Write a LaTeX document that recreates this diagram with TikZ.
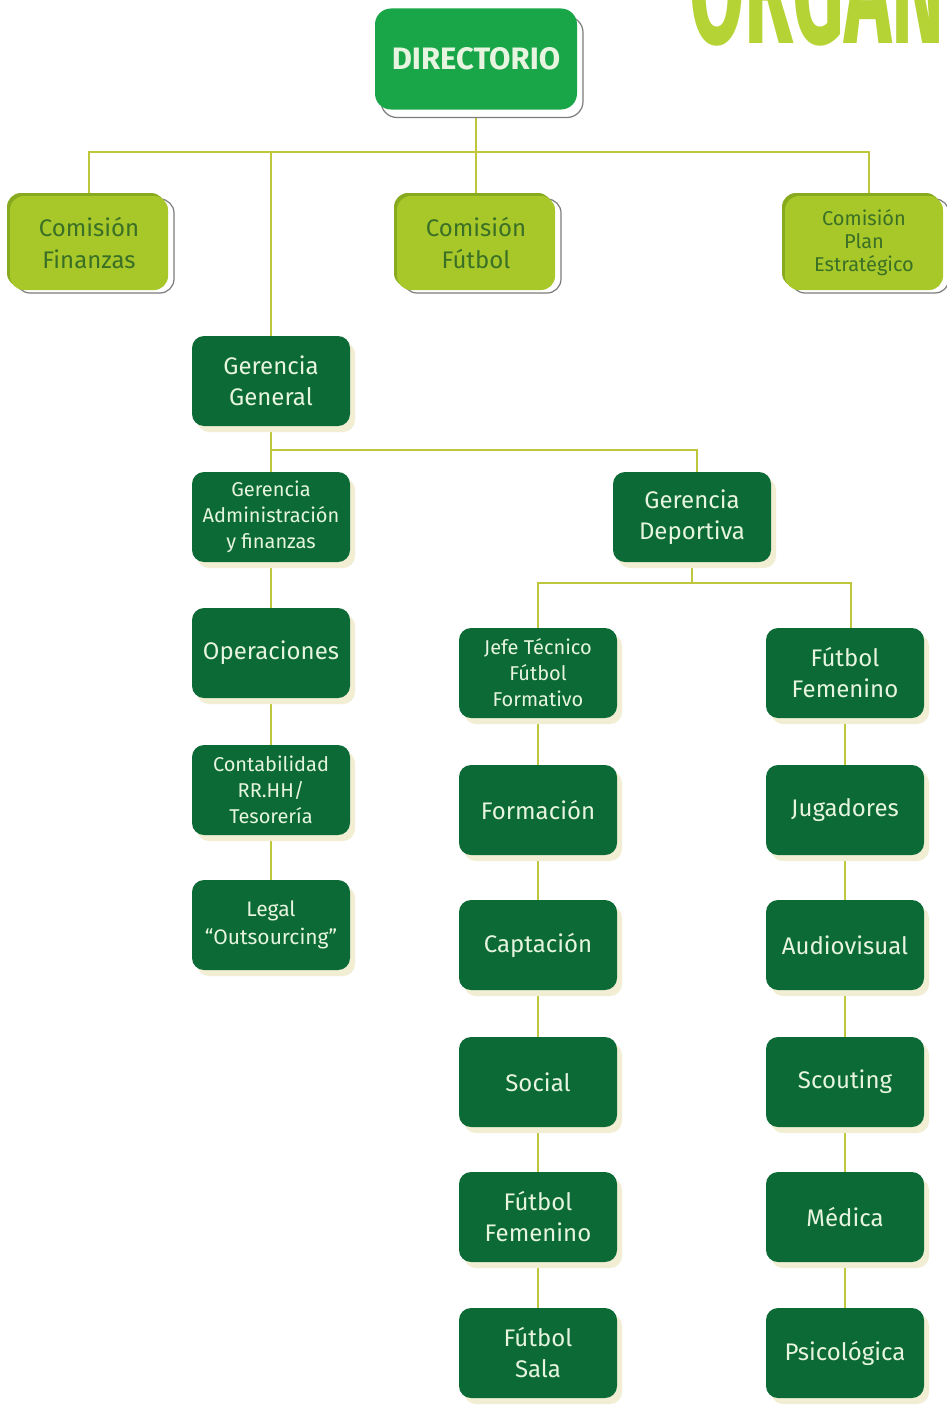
\documentclass[tikz,border=0pt]{standalone}
\usepackage{fontspec}
\setmainfont{Fira Sans}
\usetikzlibrary{shadows,backgrounds}
\definecolor{dkgreen}{HTML}{0B6A35}
\definecolor{boxtext}{HTML}{E6F4E0}
\definecolor{cream}{HTML}{F1EED3}
\definecolor{dirgreen}{HTML}{19A649}
\definecolor{comgreen}{HTML}{A8C82A}
\definecolor{comdark}{HTML}{88AA1E}
\definecolor{comtext}{HTML}{3A7025}
\definecolor{greyline}{HTML}{7C7C7C}
\definecolor{conncol}{HTML}{BEC63C}
\definecolor{titlegreen}{HTML}{B5D334}
\begin{document}
\begin{tikzpicture}[x=1pt,y=-1pt,
  darkbox/.style={rounded corners=12pt, fill=dkgreen, text=boxtext,
    minimum width=158pt, minimum height=90pt, align=center, inner sep=2pt,
    font=\fontsize{24}{31}\selectfont,
    copy shadow={shadow xshift=5pt, shadow yshift=-6pt, fill=cream, draw=none}},
  smalltext/.style={font=\fontsize{20}{26}\selectfont},
  dirbox/.style={rounded corners=16pt, fill=dirgreen, text=boxtext,
    minimum width=202pt, minimum height=101pt, align=center,
    font=\fontsize{31}{36}\bfseries\selectfont,
    copy shadow={shadow xshift=6pt, shadow yshift=-8pt, fill=white, draw=greyline, line width=1.2pt}},
  combox/.style={rounded corners=14pt, fill=comgreen, text=comtext,
    minimum width=158pt, minimum height=94pt, align=center, inner sep=2pt,
    font=\fontsize{24}{32}\selectfont,
    copy shadow={shadow xshift=6pt, shadow yshift=-3pt, fill=white, draw=greyline, line width=1.2pt},
    copy shadow={shadow xshift=-3pt, shadow yshift=3pt, fill=comdark, draw=none}},
  conn/.style={draw=conncol, line width=2.2pt}
]
\useasboundingbox (0,0) rectangle (947,1405);
\clip (0,0) rectangle (947,1405);

% title (cropped at the top, as in the reference)
\node[anchor=base west, text=titlegreen, inner sep=0pt, xscale=0.5,
  font=\fontsize{160}{160}\bfseries\selectfont] (title) at (689,44) {ORGAN};

% top level
\node[dirbox] (dir) at (476,59) {DIRECTORIO};
\node[combox] (cf) at (89,243) {Comisión\\Finanzas};
\node[combox] (cfu) at (476,243) {Comisión\\Fútbol};
\node[combox, font=\fontsize{20}{23}\selectfont] (cpe) at (864,243) {Comisión\\Plan\\Estratégico};

% left column
\node[darkbox] (gg) at (271,381) {Gerencia\\General};
\node[darkbox, smalltext] (gaf) at (271,517) {Gerencia\\Administración\\y finanzas};
\node[darkbox] (op) at (271,653) {Operaciones};
\node[darkbox, smalltext] (cont) at (271,790) {Contabilidad\\RR.HH/\\Tesorería};
\node[darkbox, font=\fontsize{21}{28}\selectfont] (leg) at (271,925) {Legal\\“Outsourcing”};

% sport management
\node[darkbox] (gd) at (692,517) {Gerencia\\Deportiva};

\node[darkbox, smalltext] (jt) at (538,673) {Jefe Técnico\\Fútbol\\Formativo};
\node[darkbox] (form) at (538,810) {Formación};
\node[darkbox] (cap) at (538,945) {Captación};
\node[darkbox] (soc) at (538,1082) {Social};
\node[darkbox] (ff2) at (538,1217) {Fútbol\\Femenino};
\node[darkbox] (sala) at (538,1353) {Fútbol\\Sala};

\node[darkbox] (ff1) at (845,673) {Fútbol\\Femenino};
\node[darkbox] (jug) at (845,810) {Jugadores};
\node[darkbox] (aud) at (845,945) {Audiovisual};
\node[darkbox] (sco) at (845,1082) {Scouting};
\node[darkbox] (med) at (845,1217) {Médica};
\node[darkbox] (psi) at (845,1353) {Psicológica};

\coordinate (h1) at (0,152);
\coordinate (h2) at (0,450);
\coordinate (h3) at (0,583);

\begin{scope}[on background layer]
  \fill[white] (0,0) rectangle (947,1405);
  \draw[conn] (dir.south) -- (dir.south |- h1);
  \draw[conn] (cf.north) |- ([xshift=5pt]cpe.north |- h1) -- ([xshift=5pt]cpe.north);
  \draw[conn] (cfu.north) -- (cfu.north |- h1);
  \draw[conn] (gg.north) -- (gg.north |- h1);
  \draw[conn] (gg.south) -- (gaf.north);
  \draw[conn] (gg.south |- h2) -| ([xshift=5pt]gd.north);
  \draw[conn] (gaf.south) -- (op.north);
  \draw[conn] (op.south) -- (cont.north);
  \draw[conn] (cont.south) -- (leg.north);
  \draw[conn] (gd.south) -- (gd.south |- h3);
  \draw[conn] (jt.north) |- ([xshift=6pt]ff1.north |- h3) -- ([xshift=6pt]ff1.north);
  \draw[conn] (jt.south) -- (form.north);
  \draw[conn] (form.south) -- (cap.north);
  \draw[conn] (cap.south) -- (soc.north);
  \draw[conn] (soc.south) -- (ff2.north);
  \draw[conn] (ff2.south) -- (sala.north);
  \draw[conn] (ff1.south) -- (jug.north);
  \draw[conn] (jug.south) -- (aud.north);
  \draw[conn] (aud.south) -- (sco.north);
  \draw[conn] (sco.south) -- (med.north);
  \draw[conn] (med.south) -- (psi.north);
\end{scope}
\end{tikzpicture}
\end{document}
